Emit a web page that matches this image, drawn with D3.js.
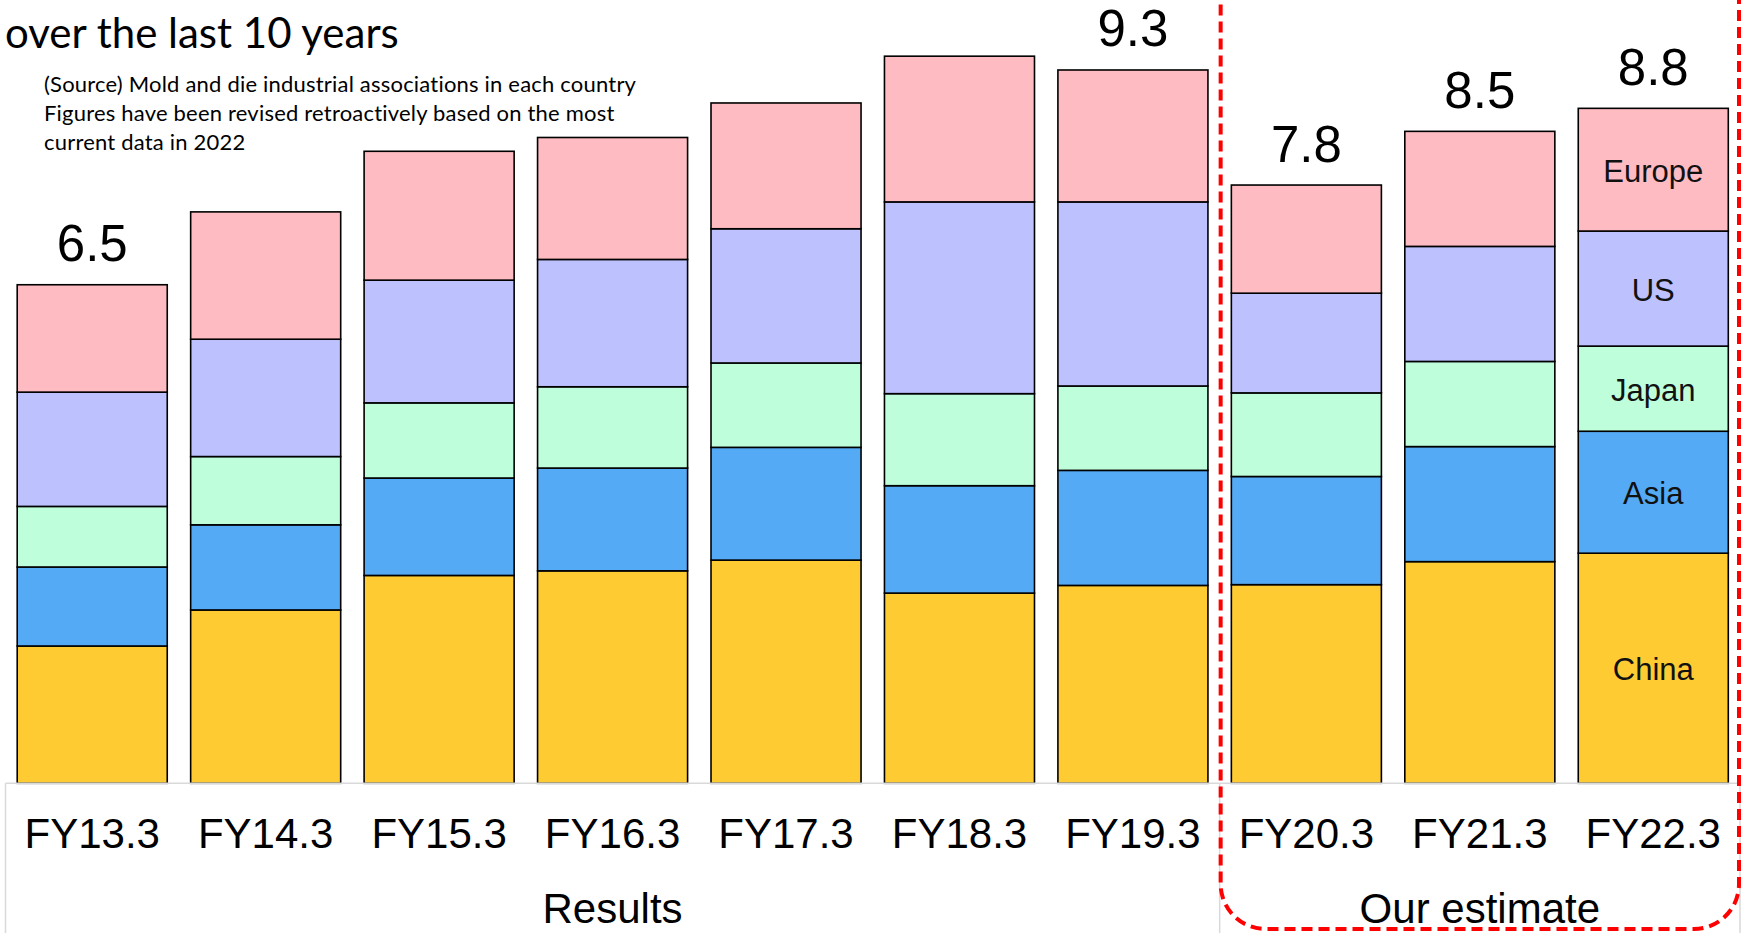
<!DOCTYPE html>
<html>
<head>
<meta charset="utf-8">
<script src="https://cdn.jsdelivr.net/npm/d3@7"></script>
<style>
  html, body { margin: 0; padding: 0; background: #fff; overflow: hidden; }
  svg { display: block; }
</style>
</head>
<body>
<svg id="chart" width="1745" height="933"></svg>
<script>
// Fiscal years on the category axis
const categories = ["FY13.3", "FY14.3", "FY15.3", "FY16.3", "FY17.3", "FY18.3", "FY19.3", "FY20.3", "FY21.3", "FY22.3"];

// Regional market size per fiscal year (stacked bottom to top)
const china  = [1.79, 2.26, 2.71, 2.77, 2.91, 2.48, 2.58, 2.59, 2.89, 3.00];
const asia   = [1.03, 1.11, 1.27, 1.34, 1.47, 1.40, 1.50, 1.41, 1.50, 1.59];
const japan  = [0.79, 0.89, 0.98, 1.06, 1.10, 1.20, 1.10, 1.09, 1.11, 1.11];
const us     = [1.49, 1.53, 1.60, 1.66, 1.75, 2.50, 2.40, 1.30, 1.50, 1.50];
const europe = [1.40, 1.66, 1.68, 1.59, 1.64, 1.90, 1.72, 1.41, 1.50, 1.60];

// Series order, names and fills
const seriesKeys   = ["China", "Asia", "Japan", "US", "Europe"];
const seriesColors = ["#FECB33", "#55AAF6", "#BFFEDA", "#BDC1FE", "#FEBBC1"];

// Years whose total is printed above the bar
const labelledYears = ["FY13.3", "FY19.3", "FY20.3", "FY21.3", "FY22.3"];

// Second level of the category axis
const groupNames = ["Results", "Our estimate"];
const groupFirst = ["FY13.3", "FY20.3"];
const groupLast  = ["FY19.3", "FY22.3"];

// Header text
const titleLine = "over the last 10 years";
const noteLines = [
  "(Source) Mold and die industrial associations in each country",
  "Figures have been revised retroactively based on the most",
  "current data in 2022"
];

const rows = categories.map((c, i) => ({
  year: c,
  China: china[i], Asia: asia[i], Japan: japan[i], US: us[i], Europe: europe[i]
}));

const svg = d3.select("#chart");

const x = d3.scaleBand()
  .domain(categories)
  .range([5.5, 1740])
  .paddingInner(0.135)
  .paddingOuter(0.0675);

const y = d3.scaleLinear()
  .domain([0, 10])
  .range([783.3, 16.3]);

const color = d3.scaleOrdinal().domain(seriesKeys).range(seriesColors);

const stacked = d3.stack().keys(seriesKeys)(rows);

// Stacked bars
const layers = svg.append("g").attr("class", "bars")
  .selectAll("g")
  .data(stacked)
  .join("g")
  .attr("fill", d => color(d.key));

layers.selectAll("rect")
  .data(d => d)
  .join("rect")
  .attr("x", d => x(d.data.year))
  .attr("width", x.bandwidth())
  .attr("y", d => y(d[1]))
  .attr("height", d => y(d[0]) - y(d[1]))
  .attr("stroke", "#000")
  .attr("stroke-width", 1.6);

// Series names inside the last bar
const lastYear = categories[categories.length - 1];
svg.append("g")
  .selectAll("text")
  .data(stacked)
  .join("text")
  .attr("x", x(lastYear) + x.bandwidth() / 2)
  .attr("y", d => {
    const seg = d.find(p => p.data.year === lastYear);
    return (y(seg[0]) + y(seg[1])) / 2 + 1.5;
  })
  .attr("text-anchor", "middle")
  .attr("dominant-baseline", "central")
  .attr("font-family", "'Liberation Sans', Arial, sans-serif")
  .attr("font-size", 31)
  .attr("fill", "#111")
  .text(d => d.key);

// Totals above selected bars
const fmt = d3.format(".1f");
svg.append("g")
  .selectAll("text")
  .data(rows.filter(r => labelledYears.includes(r.year)))
  .join("text")
  .attr("x", d => x(d.year) + x.bandwidth() / 2)
  .attr("y", d => y(d3.sum(seriesKeys, k => d[k])) - 23.5)
  .attr("text-anchor", "middle")
  .attr("font-family", "'Liberation Sans', Arial, sans-serif")
  .attr("font-size", 51)
  .attr("fill", "#000")
  .text(d => fmt(d3.sum(seriesKeys, k => d[k])));

// Category axis frame
const axisTop = y(0);
const axisG = svg.append("g").attr("class", "x-axis");
axisG.append("line")
  .attr("x1", x.range()[0]).attr("x2", x.range()[1])
  .attr("y1", axisTop).attr("y2", axisTop)
  .attr("stroke", "#d9d9d9").attr("stroke-width", 1.5);

const groupBounds = groupNames.map((g, i) => {
  const a = categories.indexOf(groupFirst[i]);
  const b = categories.indexOf(groupLast[i]);
  const left = a === 0 ? x.range()[0] : x(categories[a]) - x.step() * x.paddingInner() / 2;
  const right = b === categories.length - 1 ? x.range()[1] : x(categories[b]) + x.bandwidth() + x.step() * x.paddingInner() / 2;
  return { name: g, left, right };
});

const dividers = [groupBounds[0].left, ...groupBounds.map(g => g.right)];
axisG.selectAll("line.div")
  .data(dividers)
  .join("line")
  .attr("class", "div")
  .attr("x1", d => d).attr("x2", d => d)
  .attr("y1", axisTop).attr("y2", 933)
  .attr("stroke", "#d9d9d9").attr("stroke-width", 1.5);

axisG.selectAll("text.cat")
  .data(categories)
  .join("text")
  .attr("class", "cat")
  .attr("x", d => x(d) + x.bandwidth() / 2)
  .attr("y", 848)
  .attr("text-anchor", "middle")
  .attr("font-family", "'Liberation Sans', Arial, sans-serif")
  .attr("font-size", 42)
  .attr("fill", "#000")
  .text(d => d);

axisG.selectAll("text.grp")
  .data(groupBounds)
  .join("text")
  .attr("class", "grp")
  .attr("x", d => (d.left + d.right) / 2)
  .attr("y", 923)
  .attr("text-anchor", "middle")
  .attr("font-family", "'Liberation Sans', Arial, sans-serif")
  .attr("font-size", 42)
  .attr("fill", "#000")
  .text(d => d.name);

// Dashed frame around the estimated years
const est = groupBounds[1];
svg.append("rect")
  .attr("x", est.left + 1)
  .attr("y", -80)
  .attr("width", 1739 - (est.left + 1))
  .attr("height", 929 + 80)
  .attr("rx", 45).attr("ry", 45)
  .attr("fill", "none")
  .attr("stroke", "#FF0000")
  .attr("stroke-width", 4)
  .attr("stroke-dasharray", "11 6");

// Header
svg.append("text")
  .attr("x", 5)
  .attr("y", 48)
  .attr("font-family", "Lato, 'Open Sans', sans-serif")
  .attr("font-size", 42)
  .attr("fill", "#000")
  .text(titleLine);

svg.append("g")
  .selectAll("text")
  .data(noteLines)
  .join("text")
  .attr("x", 44)
  .attr("y", (d, i) => 92 + i * 29)
  .attr("font-family", "Lato, 'Open Sans', sans-serif")
  .attr("font-size", 22)
  .attr("letter-spacing", 0.2)
  .attr("fill", "#000")
  .text(d => d);
</script>
</body>
</html>
